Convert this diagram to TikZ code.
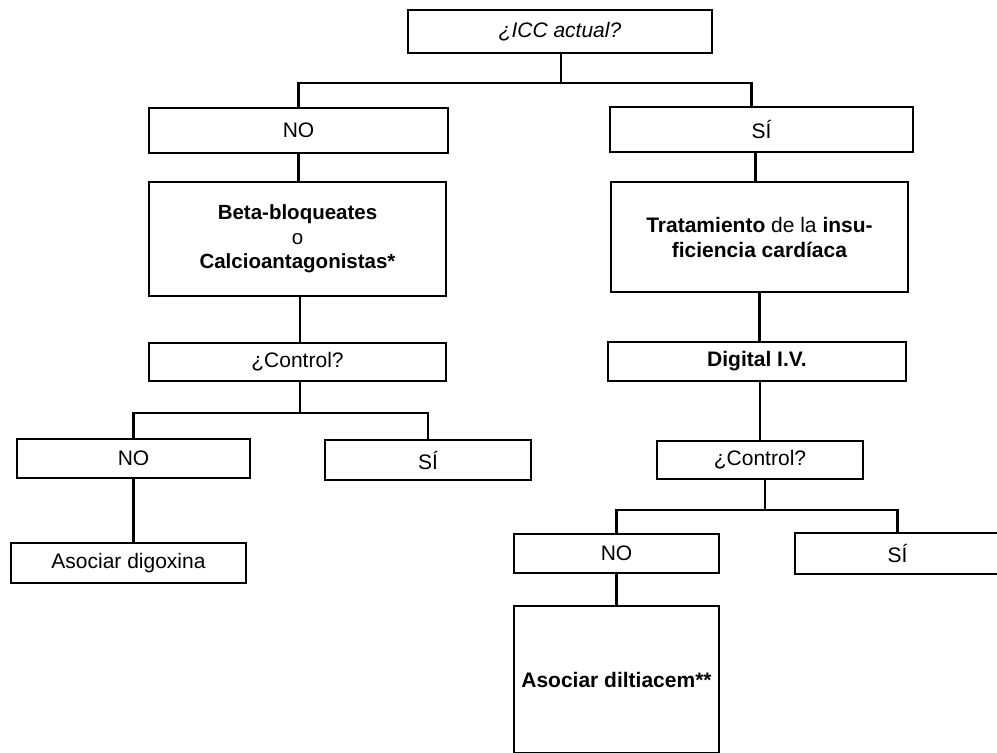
\documentclass[tikz,border=0pt]{standalone}
\usepackage{fontspec}
\setmainfont{Liberation Sans}
\tikzset{
  caja/.style={draw, line width=2.6pt, inner sep=0pt, align=center,
    font=\fontsize{21}{25}\selectfont},
  linea/.style={line width=2.6pt},
}
\begin{document}
\begin{tikzpicture}[x=1pt,y=-1pt]
            \useasboundingbox (0,0) rectangle (997,753);
            \clip (0,0) rectangle (997,753);
            % pregunta inicial
            \node[caja, minimum width=304pt, minimum height=43pt] (icc) at (560,31.5) {\textit{¿ICC actual?}};
            \node[caja, minimum width=299pt, minimum height=45pt] (no1) at (298.5,130.5) {NO};
            \node[caja, minimum width=303pt, minimum height=45pt] (si1) at (761.5,129.5) {SÍ};
            % rama izquierda
            \node[caja, font=\fontsize{20.5}{24.5}\selectfont, minimum width=297pt, minimum height=114pt] (beta) at (297.5,239) {\textbf{Beta-bloqueates}\\o\\\textbf{Calcioantagonistas*}};
            \node[caja, minimum width=297pt, minimum height=38pt] (ctrl1) at (297.5,362) {¿Control?};
            \node[caja, minimum width=233pt, minimum height=39pt] (no2) at (133.5,458.5) {NO};
            \node[caja, minimum width=206pt, minimum height=40pt] (si2) at (428,460) {SÍ};
            \node[caja, minimum width=235pt, minimum height=40pt] (asoc1) at (128.5,563) {Asociar digoxina};
            % rama derecha
            \node[caja, minimum width=297pt, minimum height=110pt] (trat) at (759.5,237) {\textbf{Tratamiento} de la \textbf{insu-}\\\textbf{ficiencia cardíaca}};
            \node[caja, minimum width=298pt, minimum height=39pt] (dig) at (757,361.5) {\textbf{Digital I.V.}};
            \node[caja, minimum width=206pt, minimum height=38pt] (ctrl2) at (760,460) {¿Control?};
            \node[caja, minimum width=205pt, minimum height=39pt] (no3) at (616.5,553.5) {NO};
            \node[caja, minimum width=205pt, minimum height=41pt] (si3) at (897.5,553.5) {SÍ};
            \node[caja, minimum width=205pt, minimum height=147.5pt] (asoc2) at (616.5,679.75) {\textbf{Asociar diltiacem**}};
            % uniones
            \coordinate (j1) at (561,83);
            \coordinate (j2) at (300,413);
            \coordinate (j3) at (765,510);
            \draw[linea] (icc.south -| j1) -- (j1);
            \draw[linea] (no1.north) |- (j1) -| ([xshift=-10pt]si1.north);
            \draw[linea] (no1.south) -- (no1.south |- beta.north);
            \draw[linea] ([xshift=-6pt]si1.south) -- ([xshift=-6pt]si1.south |- trat.north);
            \draw[linea] (beta.south -| j2) -- (ctrl1.north -| j2);
            \draw[linea] (ctrl1.south -| j2) -- (j2);
            \draw[linea] (no2.north) |- (j2) -| (si2.north);
            \draw[linea] (no2.south) -- (no2.south |- asoc1.north);
            \draw[linea] (trat.south) -- (trat.south |- dig.north);
            \draw[linea] (ctrl2.north |- dig.south) -- (ctrl2.north);
            \draw[linea] (ctrl2.south -| j3) -- (j3);
            \draw[linea] (no3.north) |- (j3) -| (si3.north);
            \draw[linea] (no3.south) -- (asoc2.north);
        \end{tikzpicture}
\end{document}
